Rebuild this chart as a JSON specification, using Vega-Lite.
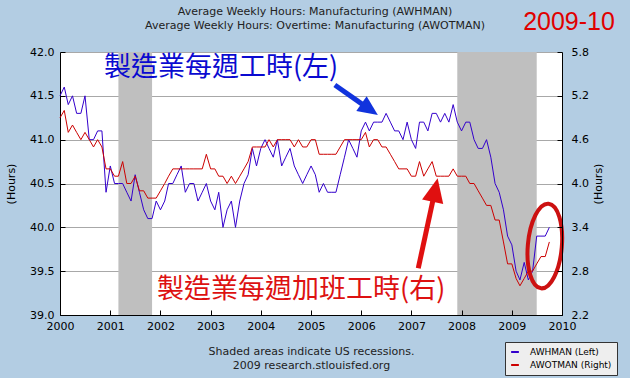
{
 "$schema": "https://vega.github.io/schema/vega-lite/v6.json",
 "width": 502,
 "height": 263,
 "autosize": {"type": "none"},
 "padding": {"left": 60, "top": 52, "right": 68, "bottom": 63},
 "background": "#b3cde3",
 "title": {"text": ["Average Weekly Hours: Manufacturing (AWHMAN)", "Average Weekly Hours: Overtime: Manufacturing (AWOTMAN)"], "font": "DejaVu Sans", "fontSize": 11, "fontWeight": "normal", "color": "#222222", "lineHeight": 14, "anchor": "middle", "offset": -21, "dx": 4},
 "datasets": {
  "rec": [{"start": "2001-03-01", "end": "2001-11-01"}, {"start": "2007-12-01", "end": "2009-07-01"}],
  "awh": [
   {"date": "2000-01-01", "series": "AWHMAN (Left)", "value": 41.5},
   {"date": "2000-02-01", "series": "AWHMAN (Left)", "value": 41.6},
   {"date": "2000-03-01", "series": "AWHMAN (Left)", "value": 41.4},
   {"date": "2000-04-01", "series": "AWHMAN (Left)", "value": 41.5},
   {"date": "2000-05-01", "series": "AWHMAN (Left)", "value": 41.3},
   {"date": "2000-06-01", "series": "AWHMAN (Left)", "value": 41.3},
   {"date": "2000-07-01", "series": "AWHMAN (Left)", "value": 41.5},
   {"date": "2000-08-01", "series": "AWHMAN (Left)", "value": 41.0},
   {"date": "2000-09-01", "series": "AWHMAN (Left)", "value": 41.0},
   {"date": "2000-10-01", "series": "AWHMAN (Left)", "value": 41.1},
   {"date": "2000-11-01", "series": "AWHMAN (Left)", "value": 41.1},
   {"date": "2000-12-01", "series": "AWHMAN (Left)", "value": 40.4},
   {"date": "2001-01-01", "series": "AWHMAN (Left)", "value": 40.7},
   {"date": "2001-02-01", "series": "AWHMAN (Left)", "value": 40.5},
   {"date": "2001-03-01", "series": "AWHMAN (Left)", "value": 40.5},
   {"date": "2001-04-01", "series": "AWHMAN (Left)", "value": 40.5},
   {"date": "2001-05-01", "series": "AWHMAN (Left)", "value": 40.4},
   {"date": "2001-06-01", "series": "AWHMAN (Left)", "value": 40.3},
   {"date": "2001-07-01", "series": "AWHMAN (Left)", "value": 40.6},
   {"date": "2001-08-01", "series": "AWHMAN (Left)", "value": 40.4},
   {"date": "2001-09-01", "series": "AWHMAN (Left)", "value": 40.2},
   {"date": "2001-10-01", "series": "AWHMAN (Left)", "value": 40.1},
   {"date": "2001-11-01", "series": "AWHMAN (Left)", "value": 40.1},
   {"date": "2001-12-01", "series": "AWHMAN (Left)", "value": 40.3},
   {"date": "2002-01-01", "series": "AWHMAN (Left)", "value": 40.2},
   {"date": "2002-02-01", "series": "AWHMAN (Left)", "value": 40.3},
   {"date": "2002-03-01", "series": "AWHMAN (Left)", "value": 40.5},
   {"date": "2002-04-01", "series": "AWHMAN (Left)", "value": 40.5},
   {"date": "2002-05-01", "series": "AWHMAN (Left)", "value": 40.6},
   {"date": "2002-06-01", "series": "AWHMAN (Left)", "value": 40.7},
   {"date": "2002-07-01", "series": "AWHMAN (Left)", "value": 40.4},
   {"date": "2002-08-01", "series": "AWHMAN (Left)", "value": 40.5},
   {"date": "2002-09-01", "series": "AWHMAN (Left)", "value": 40.5},
   {"date": "2002-10-01", "series": "AWHMAN (Left)", "value": 40.3},
   {"date": "2002-11-01", "series": "AWHMAN (Left)", "value": 40.4},
   {"date": "2002-12-01", "series": "AWHMAN (Left)", "value": 40.5},
   {"date": "2003-01-01", "series": "AWHMAN (Left)", "value": 40.3},
   {"date": "2003-02-01", "series": "AWHMAN (Left)", "value": 40.2},
   {"date": "2003-03-01", "series": "AWHMAN (Left)", "value": 40.4},
   {"date": "2003-04-01", "series": "AWHMAN (Left)", "value": 40.0},
   {"date": "2003-05-01", "series": "AWHMAN (Left)", "value": 40.2},
   {"date": "2003-06-01", "series": "AWHMAN (Left)", "value": 40.3},
   {"date": "2003-07-01", "series": "AWHMAN (Left)", "value": 40.0},
   {"date": "2003-08-01", "series": "AWHMAN (Left)", "value": 40.3},
   {"date": "2003-09-01", "series": "AWHMAN (Left)", "value": 40.5},
   {"date": "2003-10-01", "series": "AWHMAN (Left)", "value": 40.6},
   {"date": "2003-11-01", "series": "AWHMAN (Left)", "value": 40.9},
   {"date": "2003-12-01", "series": "AWHMAN (Left)", "value": 40.7},
   {"date": "2004-01-01", "series": "AWHMAN (Left)", "value": 40.9},
   {"date": "2004-02-01", "series": "AWHMAN (Left)", "value": 41.0},
   {"date": "2004-03-01", "series": "AWHMAN (Left)", "value": 40.9},
   {"date": "2004-04-01", "series": "AWHMAN (Left)", "value": 40.8},
   {"date": "2004-05-01", "series": "AWHMAN (Left)", "value": 41.0},
   {"date": "2004-06-01", "series": "AWHMAN (Left)", "value": 40.7},
   {"date": "2004-07-01", "series": "AWHMAN (Left)", "value": 40.8},
   {"date": "2004-08-01", "series": "AWHMAN (Left)", "value": 40.9},
   {"date": "2004-09-01", "series": "AWHMAN (Left)", "value": 40.7},
   {"date": "2004-10-01", "series": "AWHMAN (Left)", "value": 40.6},
   {"date": "2004-11-01", "series": "AWHMAN (Left)", "value": 40.5},
   {"date": "2004-12-01", "series": "AWHMAN (Left)", "value": 40.6},
   {"date": "2005-01-01", "series": "AWHMAN (Left)", "value": 40.7},
   {"date": "2005-02-01", "series": "AWHMAN (Left)", "value": 40.6},
   {"date": "2005-03-01", "series": "AWHMAN (Left)", "value": 40.4},
   {"date": "2005-04-01", "series": "AWHMAN (Left)", "value": 40.5},
   {"date": "2005-05-01", "series": "AWHMAN (Left)", "value": 40.4},
   {"date": "2005-06-01", "series": "AWHMAN (Left)", "value": 40.4},
   {"date": "2005-07-01", "series": "AWHMAN (Left)", "value": 40.4},
   {"date": "2005-08-01", "series": "AWHMAN (Left)", "value": 40.6},
   {"date": "2005-09-01", "series": "AWHMAN (Left)", "value": 40.8},
   {"date": "2005-10-01", "series": "AWHMAN (Left)", "value": 41.0},
   {"date": "2005-11-01", "series": "AWHMAN (Left)", "value": 40.9},
   {"date": "2005-12-01", "series": "AWHMAN (Left)", "value": 40.8},
   {"date": "2006-01-01", "series": "AWHMAN (Left)", "value": 41.1},
   {"date": "2006-02-01", "series": "AWHMAN (Left)", "value": 41.2},
   {"date": "2006-03-01", "series": "AWHMAN (Left)", "value": 41.1},
   {"date": "2006-04-01", "series": "AWHMAN (Left)", "value": 41.2},
   {"date": "2006-05-01", "series": "AWHMAN (Left)", "value": 41.2},
   {"date": "2006-06-01", "series": "AWHMAN (Left)", "value": 41.2},
   {"date": "2006-07-01", "series": "AWHMAN (Left)", "value": 41.3},
   {"date": "2006-08-01", "series": "AWHMAN (Left)", "value": 41.2},
   {"date": "2006-09-01", "series": "AWHMAN (Left)", "value": 41.1},
   {"date": "2006-10-01", "series": "AWHMAN (Left)", "value": 41.1},
   {"date": "2006-11-01", "series": "AWHMAN (Left)", "value": 41.0},
   {"date": "2006-12-01", "series": "AWHMAN (Left)", "value": 41.2},
   {"date": "2007-01-01", "series": "AWHMAN (Left)", "value": 41.0},
   {"date": "2007-02-01", "series": "AWHMAN (Left)", "value": 40.9},
   {"date": "2007-03-01", "series": "AWHMAN (Left)", "value": 41.2},
   {"date": "2007-04-01", "series": "AWHMAN (Left)", "value": 41.2},
   {"date": "2007-05-01", "series": "AWHMAN (Left)", "value": 41.1},
   {"date": "2007-06-01", "series": "AWHMAN (Left)", "value": 41.3},
   {"date": "2007-07-01", "series": "AWHMAN (Left)", "value": 41.3},
   {"date": "2007-08-01", "series": "AWHMAN (Left)", "value": 41.2},
   {"date": "2007-09-01", "series": "AWHMAN (Left)", "value": 41.3},
   {"date": "2007-10-01", "series": "AWHMAN (Left)", "value": 41.2},
   {"date": "2007-11-01", "series": "AWHMAN (Left)", "value": 41.4},
   {"date": "2007-12-01", "series": "AWHMAN (Left)", "value": 41.2},
   {"date": "2008-01-01", "series": "AWHMAN (Left)", "value": 41.1},
   {"date": "2008-02-01", "series": "AWHMAN (Left)", "value": 41.2},
   {"date": "2008-03-01", "series": "AWHMAN (Left)", "value": 41.2},
   {"date": "2008-04-01", "series": "AWHMAN (Left)", "value": 41.0},
   {"date": "2008-05-01", "series": "AWHMAN (Left)", "value": 40.9},
   {"date": "2008-06-01", "series": "AWHMAN (Left)", "value": 40.9},
   {"date": "2008-07-01", "series": "AWHMAN (Left)", "value": 41.0},
   {"date": "2008-08-01", "series": "AWHMAN (Left)", "value": 40.8},
   {"date": "2008-09-01", "series": "AWHMAN (Left)", "value": 40.5},
   {"date": "2008-10-01", "series": "AWHMAN (Left)", "value": 40.4},
   {"date": "2008-11-01", "series": "AWHMAN (Left)", "value": 40.2},
   {"date": "2008-12-01", "series": "AWHMAN (Left)", "value": 39.9},
   {"date": "2009-01-01", "series": "AWHMAN (Left)", "value": 39.8},
   {"date": "2009-02-01", "series": "AWHMAN (Left)", "value": 39.5},
   {"date": "2009-03-01", "series": "AWHMAN (Left)", "value": 39.4},
   {"date": "2009-04-01", "series": "AWHMAN (Left)", "value": 39.6},
   {"date": "2009-05-01", "series": "AWHMAN (Left)", "value": 39.4},
   {"date": "2009-06-01", "series": "AWHMAN (Left)", "value": 39.5},
   {"date": "2009-07-01", "series": "AWHMAN (Left)", "value": 39.9},
   {"date": "2009-08-01", "series": "AWHMAN (Left)", "value": 39.9},
   {"date": "2009-09-01", "series": "AWHMAN (Left)", "value": 39.9},
   {"date": "2009-10-01", "series": "AWHMAN (Left)", "value": 40.0}
  ],
  "awot": [
   {"date": "2000-01-01", "series": "AWOTMAN (Right)", "value": 4.9},
   {"date": "2000-02-01", "series": "AWOTMAN (Right)", "value": 5.0},
   {"date": "2000-03-01", "series": "AWOTMAN (Right)", "value": 4.7},
   {"date": "2000-04-01", "series": "AWOTMAN (Right)", "value": 4.8},
   {"date": "2000-05-01", "series": "AWOTMAN (Right)", "value": 4.7},
   {"date": "2000-06-01", "series": "AWOTMAN (Right)", "value": 4.6},
   {"date": "2000-07-01", "series": "AWOTMAN (Right)", "value": 4.7},
   {"date": "2000-08-01", "series": "AWOTMAN (Right)", "value": 4.6},
   {"date": "2000-09-01", "series": "AWOTMAN (Right)", "value": 4.5},
   {"date": "2000-10-01", "series": "AWOTMAN (Right)", "value": 4.6},
   {"date": "2000-11-01", "series": "AWOTMAN (Right)", "value": 4.5},
   {"date": "2000-12-01", "series": "AWOTMAN (Right)", "value": 4.2},
   {"date": "2001-01-01", "series": "AWOTMAN (Right)", "value": 4.2},
   {"date": "2001-02-01", "series": "AWOTMAN (Right)", "value": 4.1},
   {"date": "2001-03-01", "series": "AWOTMAN (Right)", "value": 4.1},
   {"date": "2001-04-01", "series": "AWOTMAN (Right)", "value": 4.3},
   {"date": "2001-05-01", "series": "AWOTMAN (Right)", "value": 4.0},
   {"date": "2001-06-01", "series": "AWOTMAN (Right)", "value": 4.0},
   {"date": "2001-07-01", "series": "AWOTMAN (Right)", "value": 4.1},
   {"date": "2001-08-01", "series": "AWOTMAN (Right)", "value": 3.9},
   {"date": "2001-09-01", "series": "AWOTMAN (Right)", "value": 3.9},
   {"date": "2001-10-01", "series": "AWOTMAN (Right)", "value": 3.8},
   {"date": "2001-11-01", "series": "AWOTMAN (Right)", "value": 3.8},
   {"date": "2001-12-01", "series": "AWOTMAN (Right)", "value": 3.8},
   {"date": "2002-01-01", "series": "AWOTMAN (Right)", "value": 3.9},
   {"date": "2002-02-01", "series": "AWOTMAN (Right)", "value": 4.0},
   {"date": "2002-03-01", "series": "AWOTMAN (Right)", "value": 4.1},
   {"date": "2002-04-01", "series": "AWOTMAN (Right)", "value": 4.2},
   {"date": "2002-05-01", "series": "AWOTMAN (Right)", "value": 4.2},
   {"date": "2002-06-01", "series": "AWOTMAN (Right)", "value": 4.2},
   {"date": "2002-07-01", "series": "AWOTMAN (Right)", "value": 4.2},
   {"date": "2002-08-01", "series": "AWOTMAN (Right)", "value": 4.2},
   {"date": "2002-09-01", "series": "AWOTMAN (Right)", "value": 4.2},
   {"date": "2002-10-01", "series": "AWOTMAN (Right)", "value": 4.2},
   {"date": "2002-11-01", "series": "AWOTMAN (Right)", "value": 4.2},
   {"date": "2002-12-01", "series": "AWOTMAN (Right)", "value": 4.4},
   {"date": "2003-01-01", "series": "AWOTMAN (Right)", "value": 4.2},
   {"date": "2003-02-01", "series": "AWOTMAN (Right)", "value": 4.2},
   {"date": "2003-03-01", "series": "AWOTMAN (Right)", "value": 4.1},
   {"date": "2003-04-01", "series": "AWOTMAN (Right)", "value": 4.1},
   {"date": "2003-05-01", "series": "AWOTMAN (Right)", "value": 4.0},
   {"date": "2003-06-01", "series": "AWOTMAN (Right)", "value": 4.1},
   {"date": "2003-07-01", "series": "AWOTMAN (Right)", "value": 4.0},
   {"date": "2003-08-01", "series": "AWOTMAN (Right)", "value": 4.1},
   {"date": "2003-09-01", "series": "AWOTMAN (Right)", "value": 4.2},
   {"date": "2003-10-01", "series": "AWOTMAN (Right)", "value": 4.3},
   {"date": "2003-11-01", "series": "AWOTMAN (Right)", "value": 4.5},
   {"date": "2003-12-01", "series": "AWOTMAN (Right)", "value": 4.5},
   {"date": "2004-01-01", "series": "AWOTMAN (Right)", "value": 4.5},
   {"date": "2004-02-01", "series": "AWOTMAN (Right)", "value": 4.5},
   {"date": "2004-03-01", "series": "AWOTMAN (Right)", "value": 4.6},
   {"date": "2004-04-01", "series": "AWOTMAN (Right)", "value": 4.5},
   {"date": "2004-05-01", "series": "AWOTMAN (Right)", "value": 4.6},
   {"date": "2004-06-01", "series": "AWOTMAN (Right)", "value": 4.6},
   {"date": "2004-07-01", "series": "AWOTMAN (Right)", "value": 4.6},
   {"date": "2004-08-01", "series": "AWOTMAN (Right)", "value": 4.6},
   {"date": "2004-09-01", "series": "AWOTMAN (Right)", "value": 4.5},
   {"date": "2004-10-01", "series": "AWOTMAN (Right)", "value": 4.6},
   {"date": "2004-11-01", "series": "AWOTMAN (Right)", "value": 4.5},
   {"date": "2004-12-01", "series": "AWOTMAN (Right)", "value": 4.5},
   {"date": "2005-01-01", "series": "AWOTMAN (Right)", "value": 4.6},
   {"date": "2005-02-01", "series": "AWOTMAN (Right)", "value": 4.6},
   {"date": "2005-03-01", "series": "AWOTMAN (Right)", "value": 4.4},
   {"date": "2005-04-01", "series": "AWOTMAN (Right)", "value": 4.4},
   {"date": "2005-05-01", "series": "AWOTMAN (Right)", "value": 4.4},
   {"date": "2005-06-01", "series": "AWOTMAN (Right)", "value": 4.4},
   {"date": "2005-07-01", "series": "AWOTMAN (Right)", "value": 4.4},
   {"date": "2005-08-01", "series": "AWOTMAN (Right)", "value": 4.5},
   {"date": "2005-09-01", "series": "AWOTMAN (Right)", "value": 4.6},
   {"date": "2005-10-01", "series": "AWOTMAN (Right)", "value": 4.6},
   {"date": "2005-11-01", "series": "AWOTMAN (Right)", "value": 4.6},
   {"date": "2005-12-01", "series": "AWOTMAN (Right)", "value": 4.6},
   {"date": "2006-01-01", "series": "AWOTMAN (Right)", "value": 4.6},
   {"date": "2006-02-01", "series": "AWOTMAN (Right)", "value": 4.7},
   {"date": "2006-03-01", "series": "AWOTMAN (Right)", "value": 4.5},
   {"date": "2006-04-01", "series": "AWOTMAN (Right)", "value": 4.6},
   {"date": "2006-05-01", "series": "AWOTMAN (Right)", "value": 4.6},
   {"date": "2006-06-01", "series": "AWOTMAN (Right)", "value": 4.5},
   {"date": "2006-07-01", "series": "AWOTMAN (Right)", "value": 4.5},
   {"date": "2006-08-01", "series": "AWOTMAN (Right)", "value": 4.4},
   {"date": "2006-09-01", "series": "AWOTMAN (Right)", "value": 4.3},
   {"date": "2006-10-01", "series": "AWOTMAN (Right)", "value": 4.2},
   {"date": "2006-11-01", "series": "AWOTMAN (Right)", "value": 4.2},
   {"date": "2006-12-01", "series": "AWOTMAN (Right)", "value": 4.2},
   {"date": "2007-01-01", "series": "AWOTMAN (Right)", "value": 4.1},
   {"date": "2007-02-01", "series": "AWOTMAN (Right)", "value": 4.1},
   {"date": "2007-03-01", "series": "AWOTMAN (Right)", "value": 4.3},
   {"date": "2007-04-01", "series": "AWOTMAN (Right)", "value": 4.1},
   {"date": "2007-05-01", "series": "AWOTMAN (Right)", "value": 4.2},
   {"date": "2007-06-01", "series": "AWOTMAN (Right)", "value": 4.3},
   {"date": "2007-07-01", "series": "AWOTMAN (Right)", "value": 4.1},
   {"date": "2007-08-01", "series": "AWOTMAN (Right)", "value": 4.1},
   {"date": "2007-09-01", "series": "AWOTMAN (Right)", "value": 4.1},
   {"date": "2007-10-01", "series": "AWOTMAN (Right)", "value": 4.1},
   {"date": "2007-11-01", "series": "AWOTMAN (Right)", "value": 4.2},
   {"date": "2007-12-01", "series": "AWOTMAN (Right)", "value": 4.1},
   {"date": "2008-01-01", "series": "AWOTMAN (Right)", "value": 4.1},
   {"date": "2008-02-01", "series": "AWOTMAN (Right)", "value": 4.1},
   {"date": "2008-03-01", "series": "AWOTMAN (Right)", "value": 4.0},
   {"date": "2008-04-01", "series": "AWOTMAN (Right)", "value": 4.0},
   {"date": "2008-05-01", "series": "AWOTMAN (Right)", "value": 3.9},
   {"date": "2008-06-01", "series": "AWOTMAN (Right)", "value": 3.8},
   {"date": "2008-07-01", "series": "AWOTMAN (Right)", "value": 3.7},
   {"date": "2008-08-01", "series": "AWOTMAN (Right)", "value": 3.7},
   {"date": "2008-09-01", "series": "AWOTMAN (Right)", "value": 3.5},
   {"date": "2008-10-01", "series": "AWOTMAN (Right)", "value": 3.5},
   {"date": "2008-11-01", "series": "AWOTMAN (Right)", "value": 3.2},
   {"date": "2008-12-01", "series": "AWOTMAN (Right)", "value": 2.9},
   {"date": "2009-01-01", "series": "AWOTMAN (Right)", "value": 2.9},
   {"date": "2009-02-01", "series": "AWOTMAN (Right)", "value": 2.7},
   {"date": "2009-03-01", "series": "AWOTMAN (Right)", "value": 2.6},
   {"date": "2009-04-01", "series": "AWOTMAN (Right)", "value": 2.7},
   {"date": "2009-05-01", "series": "AWOTMAN (Right)", "value": 2.8},
   {"date": "2009-06-01", "series": "AWOTMAN (Right)", "value": 2.8},
   {"date": "2009-07-01", "series": "AWOTMAN (Right)", "value": 2.9},
   {"date": "2009-08-01", "series": "AWOTMAN (Right)", "value": 3.0},
   {"date": "2009-09-01", "series": "AWOTMAN (Right)", "value": 3.0},
   {"date": "2009-10-01", "series": "AWOTMAN (Right)", "value": 3.2}
  ]
 },
 "layer": [
  {
   "layer": [
    {
     "data": {"name": "rec"},
     "mark": {"type": "rect", "color": "#bfbfbf"},
     "encoding": {
      "x": {"field": "start", "type": "temporal",
            "scale": {"type": "utc", "domain": [{"year": 2000, "month": 1, "date": 1, "utc": true}, {"year": 2010, "month": 1, "date": 1, "utc": true}]},
            "axis": {"title": ["Shaded areas indicate US recessions.", "2009 research.stlouisfed.org"], "format": "%Y", "tickCount": {"interval": "year", "step": 1}, "labelFlush": false, "labelOverlap": false, "grid": false, "tickSize": -5, "labelPadding": 10, "titlePadding": 14, "titleColor": "#222222", "titleLineHeight": 14, "zindex": 1}},
      "x2": {"field": "end"}
     }
    },
    {
     "data": {"name": "awh"},
     "mark": {"type": "line", "strokeWidth": 1},
     "encoding": {
      "x": {"field": "date", "type": "temporal"},
      "y": {"field": "value", "type": "quantitative",
            "scale": {"domain": [39, 42], "nice": false, "zero": false},
            "axis": {"title": "(Hours)", "values": [39, 39.5, 40, 40.5, 41, 41.5, 42], "format": ".1f", "grid": true, "gridColor": "#a8a8a8", "tickSize": -5, "labelPadding": 11, "titlePadding": 13}},
      "color": {"field": "series", "type": "nominal",
                "scale": {"domain": ["AWHMAN (Left)", "AWOTMAN (Right)"], "range": ["#3300cc", "#cc0000"]},
                "legend": {"title": null}}
     }
    },
    {
     "data": {"values": [{"date": "2000-11-16", "value": 41.817, "label": "製造業每週工時(左)"}]},
     "mark": {"type": "text", "align": "left", "baseline": "middle", "font": "Noto Sans CJK TC", "fontSize": 27, "color": "#0a0ad0"},
     "encoding": {"x": {"field": "date", "type": "temporal"}, "y": {"field": "value", "type": "quantitative"}, "text": {"field": "label"}}
    },
    {
     "data": {"values": [{"date": "2001-12-07", "value": 39.285, "label": "製造業每週加班工時(右)"}]},
     "mark": {"type": "text", "align": "left", "baseline": "middle", "font": "Noto Sans CJK TC", "fontSize": 27, "color": "#dd1111"},
     "encoding": {"x": {"field": "date", "type": "temporal"}, "y": {"field": "value", "type": "quantitative"}, "text": {"field": "label"}}
    },
    {
     "data": {"values": [{"date": "2010-02-21", "value": 42.342, "label": "2009-10"}]},
     "mark": {"type": "text", "align": "center", "baseline": "middle", "font": "Liberation Sans", "fontSize": 25, "color": "#e00000"},
     "encoding": {"x": {"field": "date", "type": "temporal"}, "y": {"field": "value", "type": "quantitative"}, "text": {"field": "label"}}
    },
    {
     "data": {"values": [{"date": "2005-06-23", "value": 41.624, "date2": "2006-03-03", "value2": 41.346}]},
     "mark": {"type": "rule", "strokeWidth": 5, "color": "#1133dd", "strokeCap": "butt"},
     "encoding": {"x": {"field": "date", "type": "temporal"}, "y": {"field": "value", "type": "quantitative"}, "x2": {"field": "date2"}, "y2": {"field": "value2"}}
    },
    {
     "data": {"values": [{"date": "2006-05-02", "value": 41.281}]},
     "mark": {"type": "point", "shape": "M0,0 L-2,-0.9 L-2,0.9 Z", "size": 400, "angle": 35, "filled": true, "color": "#1133dd", "opacity": 1},
     "encoding": {"x": {"field": "date", "type": "temporal"}, "y": {"field": "value", "type": "quantitative"}}
    },
    {
     "data": {"values": [{"date": "2007-02-20", "value": 39.533, "date2": "2007-06-23", "value2": 40.426}]},
     "mark": {"type": "rule", "strokeWidth": 5, "color": "#e01010", "strokeCap": "butt"},
     "encoding": {"x": {"field": "date", "type": "temporal"}, "y": {"field": "value", "type": "quantitative"}, "x2": {"field": "date2"}, "y2": {"field": "value2"}}
    },
    {
     "data": {"values": [{"date": "2007-07-11", "value": 40.559}]},
     "mark": {"type": "point", "shape": "M0,0 L-2,-0.9 L-2,0.9 Z", "size": 576, "angle": 282, "filled": true, "color": "#e01010", "opacity": 1},
     "encoding": {"x": {"field": "date", "type": "temporal"}, "y": {"field": "value", "type": "quantitative"}}
    },
    {
     "data": {"values": [{"date": "2009-08-29", "value": 39.787}]},
     "mark": {"type": "point", "shape": "M0,-1 A0.4,1 0 1,1 0,1 A0.4,1 0 1,1 0,-1 Z", "size": 7225, "angle": 5, "filled": false, "stroke": "#cc1111", "strokeWidth": 4, "opacity": 1},
     "encoding": {"x": {"field": "date", "type": "temporal"}, "y": {"field": "value", "type": "quantitative"}}
    }
   ]
  },
  {
   "data": {"name": "awot"},
   "mark": {"type": "line", "strokeWidth": 1},
   "encoding": {
    "x": {"field": "date", "type": "temporal"},
    "y": {"field": "value", "type": "quantitative",
          "scale": {"domain": [2.2, 5.8], "nice": false, "zero": false},
          "axis": {"orient": "right", "title": "(Hours)", "titleAngle": 270, "values": [2.2, 2.8, 3.4, 4.0, 4.6, 5.2, 5.8], "format": ".1f", "grid": false, "tickSize": -5, "labelPadding": 14, "titlePadding": 15, "zindex": 1}},
    "color": {"field": "series", "type": "nominal"}
   }
  }
 ],
 "resolve": {"scale": {"y": "independent"}},
 "config": {
  "font": "DejaVu Sans",
  "view": {"stroke": null, "fill": "white"},
  "axis": {"labelFont": "DejaVu Sans", "labelFontSize": 11, "labelColor": "#000000", "titleFont": "DejaVu Sans", "titleFontSize": 11, "titleFontWeight": "normal", "titleColor": "#000000", "domainColor": "#000000", "tickColor": "#000000"},
  "legend": {"orient": "none", "legendX": 445, "legendY": 290, "fillColor": "#eeeeee", "strokeColor": "#333333", "padding": 5, "symbolType": "stroke", "symbolStrokeWidth": 2, "symbolSize": 60, "labelFont": "DejaVu Sans", "labelFontSize": 9, "labelColor": "#000000", "rowPadding": 3, "labelOffset": 10}
 }
}
